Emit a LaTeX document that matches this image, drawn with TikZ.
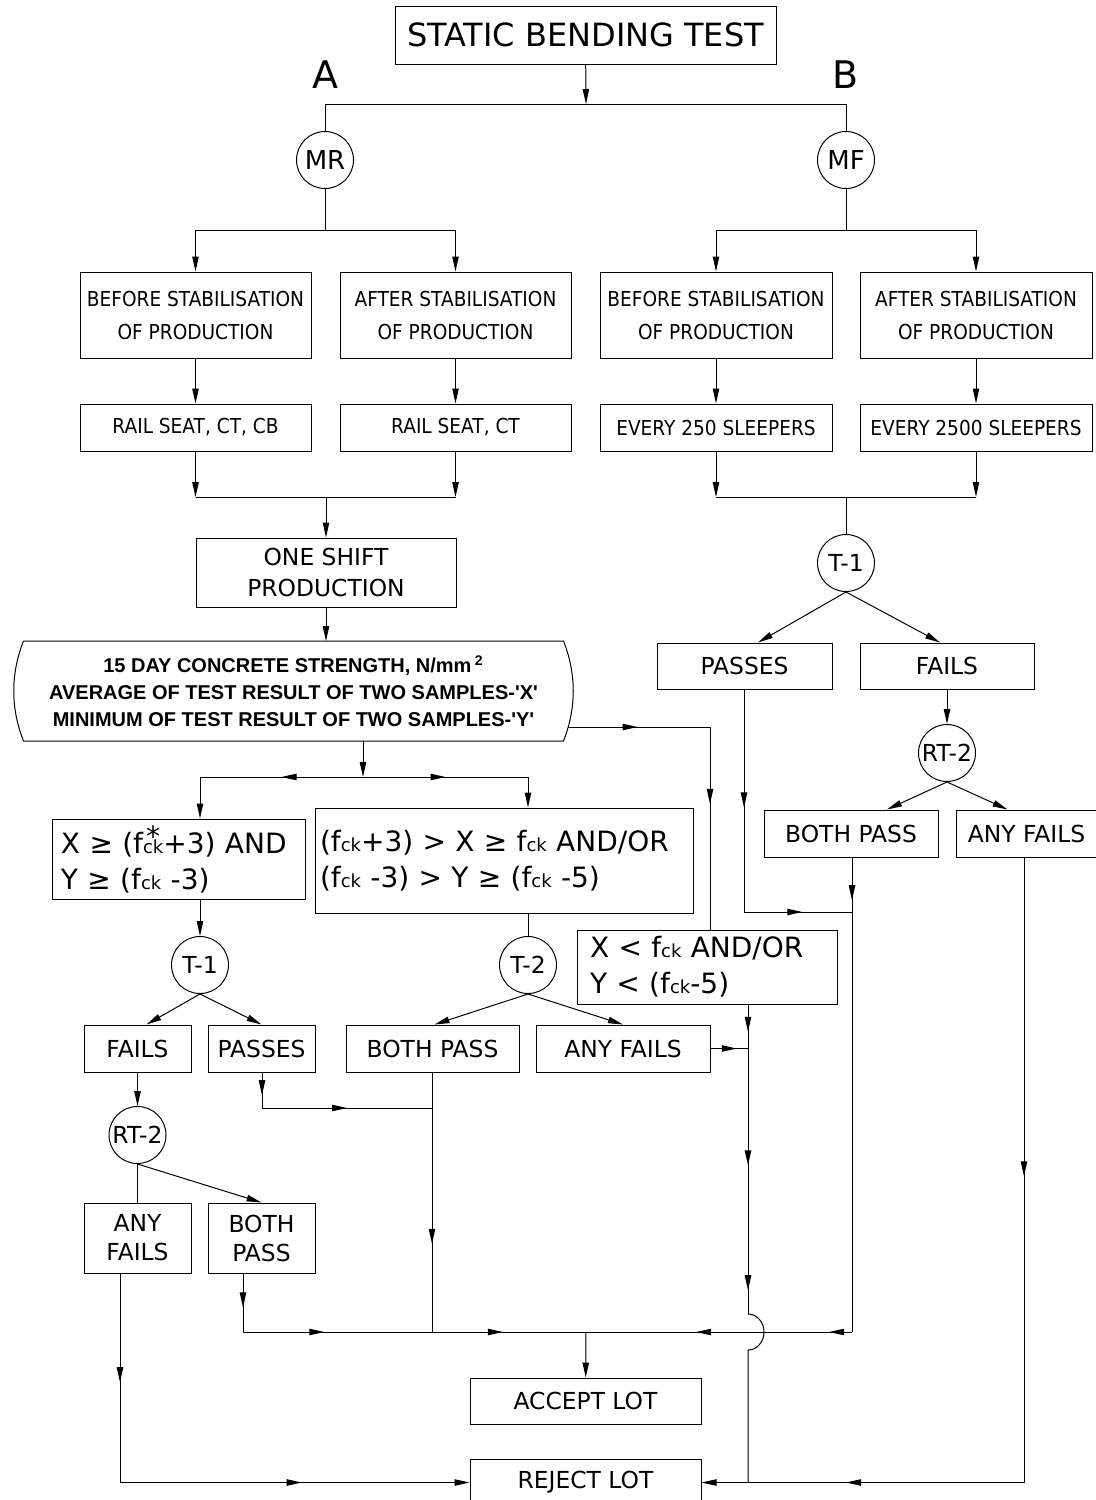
\documentclass[tikz,border=0pt]{standalone}
\usepackage{fontspec}
\setmainfont{DejaVu Sans}
\newfontfamily\narrowfont[FakeStretch=0.9]{DejaVu Sans}
\newfontfamily\arialfont{Liberation Sans}
\usetikzlibrary{arrows.meta,decorations.markings}

\newcommand\cksub{{\fontsize{9}{9}\selectfont ck}}
\newcommand\fck{f\cksub}
\newcommand\fckstar{f\ooalign{\hfil\raisebox{0.25em}{*}\hfil\cr\cksub\cr}}

\tikzset{
  box/.style={draw, rectangle, inner sep=0pt, align=center, font=\fontsize{11.7}{14.5}\selectfont},
  narrowbox/.style={box, font=\narrowfont\fontsize{10.3}{16.5}\selectfont},
  condbox/.style={box, align=left, font=\fontsize{14}{18}\selectfont},
  ring/.style={draw, circle, inner sep=0pt, minimum size=28.5pt, font=\fontsize{11.7}{14}\selectfont},
  arrowat/.style={postaction={decorate}, decoration={markings, mark=at position #1 with {\arrow{>}}}},
  arrowsat/.style 2 args={postaction={decorate}, decoration={markings, mark=at position #1 with {\arrow{>}}, mark=at position #2 with {\arrow{>}}}}
}

\begin{document}
\begin{tikzpicture}[x=0.5pt, y=-0.5pt, >={Triangle[length=7.5pt,width=3.2pt]}, line width=0.5pt]
\useasboundingbox (0,0) rectangle (1096,1500);

\node[box, font=\fontsize{16}{19}\selectfont, minimum width=190.5pt, minimum height=29pt] (sbt) at (585.5,35) {STATIC BENDING TEST};
\node[font=\fontsize{19}{19}\selectfont] (la) at (325,75) {A};
\node[font=\fontsize{19}{19}\selectfont] (lb) at (846,75) {B};
\node[ring, font=\fontsize{13}{14}\selectfont] (mr) at (325,160) {MR};
\node[ring, font=\fontsize{13}{14}\selectfont] (mf) at (846,160) {MF};

\node[narrowbox, minimum width=115.5pt, minimum height=43pt] (bsA) at (195.5,315) {BEFORE STABILISATION\\OF PRODUCTION};
\node[narrowbox, minimum width=115.5pt, minimum height=43pt] (asA) at (455.5,315) {AFTER STABILISATION\\OF PRODUCTION};
\node[narrowbox, minimum width=116pt, minimum height=43pt] (bsB) at (716,315) {BEFORE STABILISATION\\OF PRODUCTION};
\node[narrowbox, minimum width=116pt, minimum height=43pt] (asB) at (976,315) {AFTER STABILISATION\\OF PRODUCTION};
\node[narrowbox, minimum width=115.5pt, minimum height=23.5pt] (seatA) at (195.5,427.5) {RAIL SEAT, CT, CB};
\node[narrowbox, minimum width=115.5pt, minimum height=23.5pt] (seatB) at (455.5,427.5) {RAIL SEAT, CT};
\node[narrowbox, minimum width=116pt, minimum height=23.5pt] (every250) at (716,427.5) {EVERY 250 SLEEPERS};
\node[narrowbox, minimum width=116pt, minimum height=23.5pt] (every2500) at (976,427.5) {EVERY 2500 SLEEPERS};

\node[box, font=\fontsize{11.7}{15.5}\selectfont, minimum width=130pt, minimum height=34.5pt] (shift) at (326,572.5) {ONE SHIFT\\PRODUCTION};
\node[inner sep=0pt, align=center, minimum width=269.5pt, minimum height=49.5pt, font=\arialfont\bfseries\fontsize{10}{13.5}\selectfont] (conc) at (293.5,691) {15 DAY CONCRETE STRENGTH, N/mm\,\textsuperscript{2}\\AVERAGE OF TEST RESULT OF TWO SAMPLES-\textquotesingle X\textquotesingle\\MINIMUM OF TEST RESULT OF TWO SAMPLES-\textquotesingle Y\textquotesingle};

\node[condbox, text width=117.5pt, inner xsep=4.5pt, minimum height=40pt] (xge) at (178.5,859) {X ≥ (\fckstar+3) AND\\Y ≥ (\fck\ -3)};
\node[condbox, text width=184pt, inner xsep=2.5pt, minimum height=52.5pt] (xmid) at (504,860.5) {(\fck+3) > X ≥ \fck\ AND/OR\\(\fck\ -3) > Y ≥ (\fck\ -5)};
\node[condbox, text width=117pt, inner xsep=6.5pt, minimum height=37pt] (xlt) at (707,967) {X < \fck\ AND/OR\\Y < (\fck-5)};

\node[ring] (tA1) at (200,965) {T-1};
\node[ring] (tA2) at (528,965) {T-2};
\node[ring] (tB1) at (846,563) {T-1};
\node[ring] (rtB) at (947,753) {RT-2};
\node[ring] (rtA) at (137.5,1135) {RT-2};

\node[box, minimum width=53.5pt, minimum height=23.5pt] (failA) at (137.5,1048.5) {FAILS};
\node[box, minimum width=53.5pt, minimum height=23.5pt] (passA) at (261.5,1048.5) {PASSES};
\node[box, minimum width=86.5pt, minimum height=23.5pt] (bothA) at (432.5,1048.5) {BOTH PASS};
\node[box, minimum width=87pt, minimum height=23.5pt] (anyA) at (623,1048.5) {ANY FAILS};
\node[box, minimum width=53.5pt, minimum height=35pt] (anyA2) at (137.5,1238) {ANY\\FAILS};
\node[box, minimum width=53.5pt, minimum height=35pt] (bothA2) at (261.5,1238) {BOTH\\PASS};

\node[box, minimum width=87.5pt, minimum height=23pt] (passB) at (744.5,666) {PASSES};
\node[box, minimum width=87pt, minimum height=23pt] (failB) at (947,666) {FAILS};
\node[box, minimum width=87pt, minimum height=23.5pt] (bothB) at (851,833.5) {BOTH PASS};
\node[box, minimum width=70.5pt, minimum height=23.5pt] (anyB) at (1026.5,833.5) {ANY FAILS};

\node[box, minimum width=115.5pt, minimum height=23pt] (accept) at (585.5,1401) {ACCEPT LOT};
\node[box, minimum width=115.5pt, minimum height=23.5pt] (reject) at (585.5,1482.5) {REJECT LOT};

\coordinate (top) at (586,104);
\coordinate (topA) at (325,104);
\coordinate (topB) at (846,104);
\coordinate (mrs) at (325,230);
\coordinate (mfs) at (846,230);
\coordinate (jA) at (326,497);
\coordinate (jB) at (846,497);
\coordinate (cR) at (568,727);
\coordinate (cC) at (710,727);
\coordinate (sp) at (363,777);
\coordinate (spL) at (200,777);
\coordinate (spR) at (528,777);
\coordinate (xj) at (748,1048.5);
\coordinate (hop) at (748,1314);
\coordinate (rj) at (748,1482.5);
\coordinate (rfar) at (1024,1482.5);
\coordinate (lfar) at (120,1482.5);
\coordinate (pj) at (262,1108);
\coordinate (pjB) at (432,1108);
\coordinate (lbot) at (243,1332);
\coordinate (mbot) at (432,1332);
\coordinate (acc) at (586,1332);
\coordinate (rbot) at (852,1332);
\coordinate (pB) at (744,912);
\coordinate (pBj) at (852,912);

\draw[->] (sbt) -- (top);
\draw (topA) -- (topB);
\draw (topA) -- (mr);
\draw (topB) -- (mf);
\draw (mr) -- (mrs);
\draw (mf) -- (mfs);
\draw (bsA.north |- mrs) -- (asA.north |- mrs);
\draw (bsB.north |- mfs) -- (asB.north |- mfs);
\draw[->] (bsA.north |- mrs) -- (bsA);
\draw[->] (asA.north |- mrs) -- (asA);
\draw[->] (bsB.north |- mfs) -- (bsB);
\draw[->] (asB.north |- mfs) -- (asB);
\draw[->] (bsA) -- (seatA);
\draw[->] (asA) -- (seatB);
\draw[->] (bsB) -- (every250);
\draw[->] (asB) -- (every2500);
\draw[->] (seatA) -- (seatA.south |- jA);
\draw[->] (seatB) -- (seatB.south |- jA);
\draw[->] (every250) -- (every250.south |- jB);
\draw[->] (every2500) -- (every2500.south |- jB);
\draw (seatA.south |- jA) -- (seatB.south |- jA);
\draw (every250.south |- jB) -- (every2500.south |- jB);
\draw[->] (jA) -- (shift);
\draw (jB) -- (tB1);

\draw[->] (shift) -- (shift.south |- conc.north);
\draw (conc.north west) -- (conc.north east) .. controls +(13,33) and +(13,-33) .. (conc.south east) -- (conc.south west) .. controls +(-13,-33) and +(-13,33) .. (conc.north west);
\draw[arrowat=0.49] (cR) -- (cC);
\draw[arrowat=0.38] (cC) -- (cC |- xlt.north);
\draw[->] (conc.south -| sp) -- (sp);
\draw[arrowat=0.5] (sp) -- (spL);
\draw[arrowat=0.5] (sp) -- (spR);
\draw[->] (spL) -- (spL |- xge.north);
\draw[->] (spR) -- (spR |- xmid.north);

\draw[->] (tA1 |- xge.south) -- (tA1);
\draw (tA2 |- xmid.south) -- (tA2);
\draw[->] (tA1.south) -- ([xshift=4.5pt]failA.north);
\draw[->] (tA1.south) -- (passA.north);
\draw[->] (tA2.south) -- ([xshift=1pt]bothA.north);
\draw[->] (tA2.south) -- (anyA.north);
\draw[arrowat=0.7] (anyA) -- (xj);
\draw[arrowat=0.62] (xj |- xlt.south) -- (xj);
\draw[arrowsat={0.44}{0.91}] (xj) -- (hop);
\draw (hop) arc[start angle=-90, end angle=90, x radius=16, y radius=18] -- (rj);
\draw[->] (rj) -- (reject);

\draw[->] (failA) -- (rtA);
\draw (rtA) -- (anyA2);
\draw[->] (rtA.south) -- (bothA2.north);
\draw[arrowat=0.64] (passA.south -| pj) -- (pj);
\draw[arrowat=0.5] (pj) -- (pjB);
\draw[arrowat=0.66] (bothA.south -| mbot) -- (mbot);
\draw[arrowat=0.58] (bothA2.south -| lbot) -- (lbot);
\draw[arrowat=0.43] (lbot) -- (mbot);
\draw[arrowat=0.46] (mbot) -- (acc);
\draw[arrowsat={0.086}{0.586}] (rbot) -- (acc);
\draw[->] (acc) -- (accept);
\draw[arrowat=0.52] (anyA2.south -| lfar) -- (lfar);
\draw[->, arrowat=0.52] (lfar) -- (reject);

\draw[->] (tB1.south) -- ([xshift=6.75pt]passB.north);
\draw[->] (tB1.south) -- ([xshift=-3.5pt]failB.north);
\draw[->] (failB) -- (rtB);
\draw[->] (rtB.south) -- ([xshift=18pt]bothB.north);
\draw[->] (rtB.south) -- ([xshift=-9.5pt]anyB.north);
\draw[arrowat=0.53] (passB.south -| pB) -- (pB);
\draw[arrowat=0.54] (pB) -- (pBj);
\draw[arrowat=0.09] (bothB.south -| rbot) -- (rbot);
\draw[arrowat=0.51] (anyB.south -| rfar) -- (rfar);
\draw[arrowat=0.645] (rfar) -- (rj);
\end{tikzpicture}
\end{document}
